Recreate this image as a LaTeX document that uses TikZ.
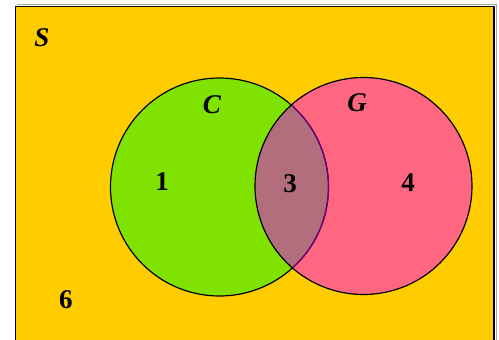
\documentclass[tikz,border=0pt]{standalone}
\usepackage{fontspec}
\setmainfont{Liberation Serif}
\definecolor{bgyellow}{RGB}{255,204,0}
\definecolor{cgreen}{RGB}{128,226,0}
\definecolor{gpink}{RGB}{255,102,128}
\definecolor{mauve}{RGB}{178,110,124}
\definecolor{borderpurple}{RGB}{120,0,130}
\begin{document}
\begin{tikzpicture}[x=1pt,y=-1pt,
  lbl/.style={font=\fontsize{27}{30}\selectfont\bfseries},
  ilbl/.style={font=\fontsize{27}{30}\selectfont\bfseries\itshape}]
\useasboundingbox (0,0) rectangle (499,340);
\begin{scope}
\clip (0,0) rectangle (499,340);
\draw[gray!70,line width=1pt] (17,4.5) -- (496,4.5) -- (496,350);
\fill[bgyellow] (15.5,6.5) rectangle (494,350);
\draw[black,line width=1.8pt] (15.5,350) -- (15.5,6.5) -- (494,6.5) -- (494,350);
\end{scope}
\coordinate (cc) at (219.5,187);
\coordinate (gc) at (363.5,186);
\fill[cgreen] (cc) circle (109);
\fill[gpink] (gc) circle (108.5);
\begin{scope}
\clip (cc) circle (109);
\fill[mauve] (gc) circle (108.5);
\end{scope}
\draw[line width=1.2pt] (cc) circle (109);
\begin{scope}
\clip (gc) circle (108.5);
\draw[borderpurple,line width=1.2pt] (cc) circle (109);
\end{scope}
\draw[line width=1.2pt] (gc) circle (108.5);
\node[ilbl] (S) at (42,38) {S};
\node[ilbl] (C) at (212,105) {C};
\node[ilbl] (G) at (357,103) {G};
\node[lbl] (n1) at (162,182) {1};
\node[lbl] (n3) at (290,184) {3};
\node[lbl] (n4) at (408,183) {4};
\node[lbl] (n6) at (66,300) {6};
\end{tikzpicture}
\end{document}
